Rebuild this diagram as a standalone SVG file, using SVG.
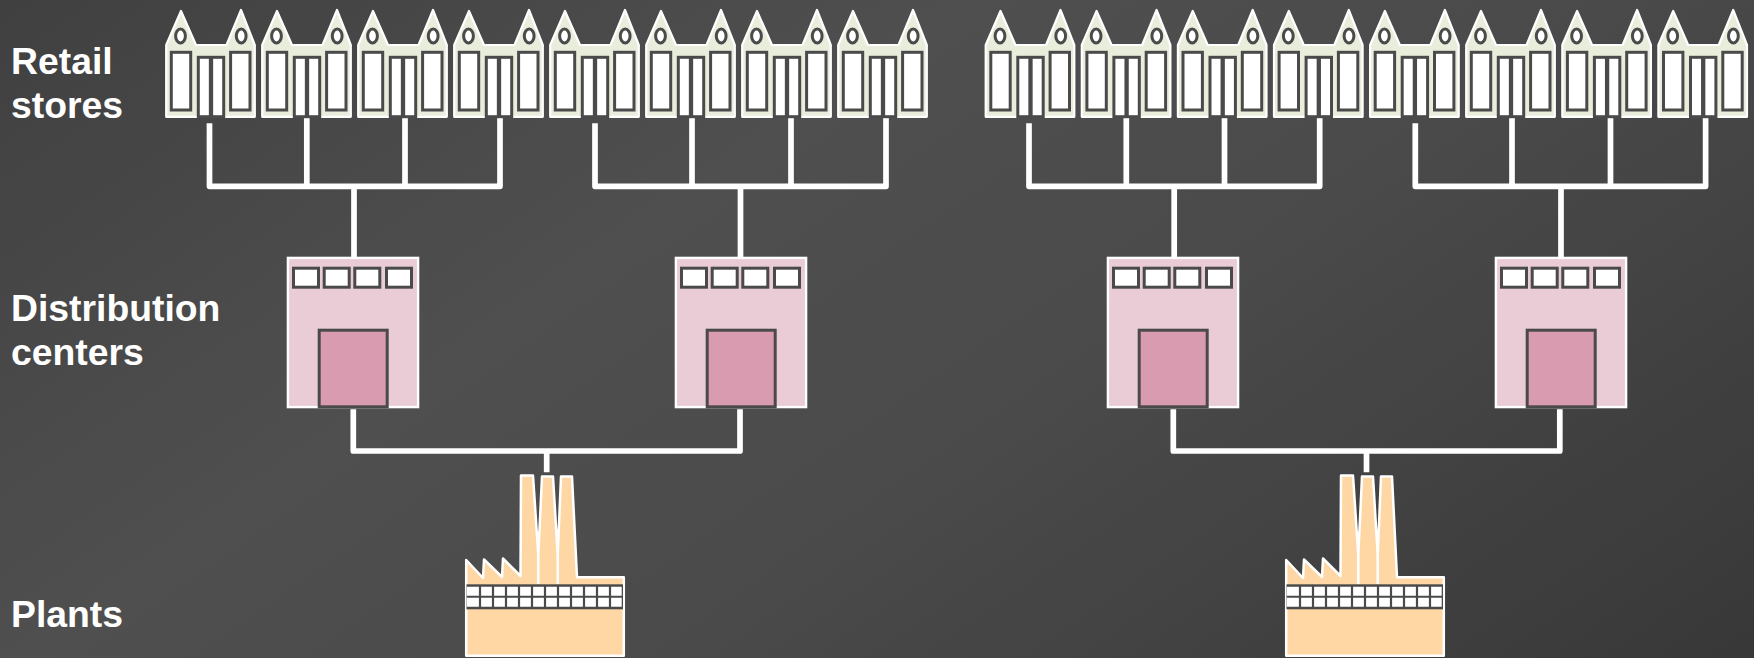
<svg xmlns="http://www.w3.org/2000/svg" width="1754" height="658" viewBox="0 0 1754 658">
<style>
text{font-family:"Liberation Sans",Arial,sans-serif;font-weight:bold;font-size:37.33px;fill:#fff}
.c{fill:none;stroke:#fff;stroke-width:5.700;stroke-linejoin:round}
.w{fill:#fff;stroke:#4a4a4a;stroke-width:3}
</style>
<defs>
<linearGradient id="bg" gradientUnits="userSpaceOnUse" x1="0" y1="0" x2="877" y2="1262">
<stop offset="0" stop-color="#404040"/><stop offset="0.36" stop-color="#4f4f4f"/><stop offset="0.6" stop-color="#4a4a4a"/><stop offset="1" stop-color="#383838"/>
</linearGradient>
<g id="store">
<path d="M1.200 45 16 11 31 45H61.500L76 10 89.800 45V116.800H1.200Z" fill="#e9eddc" stroke="#fff" stroke-width="2.200" stroke-linejoin="round"/>
<ellipse cx="15.500" cy="36" rx="4.900" ry="7" class="w"/>
<ellipse cx="76.200" cy="36" rx="4.900" ry="7" class="w"/>
<rect x="6.300" y="52.300" width="19.400" height="57.700" class="w"/>
<rect x="65.600" y="52.300" width="19.400" height="57.700" class="w"/>
<rect x="33.300" y="57.300" width="25.400" height="59.400" class="w"/>
<path d="M46 57V117" stroke="#4a4a4a" stroke-width="4.300"/>
</g>
<g id="dc">
<rect x="287.900" y="257.900" width="130.200" height="149.200" fill="#eaccd6" stroke="#fff" stroke-width="2.400"/>
<rect x="293.500" y="268.200" width="25" height="19" class="w"/>
<rect x="324.200" y="268.200" width="25" height="19" class="w"/>
<rect x="354.800" y="268.200" width="25" height="19" class="w"/>
<rect x="386.500" y="268.200" width="25" height="19" class="w"/>
<rect x="319.200" y="330.200" width="68" height="76.600" fill="#d89bb0" stroke="#4a4a4a" stroke-width="3"/>
</g>
<g id="plant">
<path d="M466.200 560 483 578 484 559.500 502 577 503 558.500 520.500 576 521 475.600H533L538.300 555 542 476.500H553L557.700 555 561 476.500H572L577 577.300H623.800V655.800H466.200Z" fill="#fed7a5" stroke="#fff" stroke-width="2.500" stroke-linejoin="round"/>
<path d="M538.300 555V584M557.700 555V584" stroke="#fff" stroke-width="2.500"/>
<rect x="466.500" y="584.300" width="156.500" height="25" fill="#4a4a4a"/>
<path d="M466.700 586.700H621.700V595.700H466.700ZM466.700 597.700H621.700V606.700H466.700Z" fill="#fff"/>
<path d="M480 586V607M493 586V607M506 586V607M519 586V607M532 586V607M545 586V607M558 586V607M571 586V607M584 586V607M597 586V607M610 586V607" stroke="#4a4a4a" stroke-width="2.200"/>
</g>
</defs>
<rect id="background" width="1754" height="658" fill="url(#bg)"/>
<text x="11" y="73.500">Retail</text>
<text x="11" y="118">stores</text>
<text x="11" y="321">Distribution</text>
<text x="11" y="365">centers</text>
<text x="11" y="627">Plants</text>
<g id="connectors">
<path class="c" d="M209.500 123.300V186.300H500V116M306.800 116V186.300M405 116V186.300M354 186.300V257"/>
<path class="c" d="M595 123.300V186.300H886V116M692 116V186.300M791 116V186.300M740.500 186.300V257"/>
<path class="c" d="M1029 123.300V186.300H1319.700V116M1126.300 116V186.300M1224.500 116V186.300M1174.200 186.300V257"/>
<path class="c" d="M1415.300 123.300V186.300H1705.600V116M1512 116V186.300M1610.500 116V186.300M1561 186.300V257"/>
<path class="c" d="M353.300 409.300V451H740V409.300M546.700 451V472.300"/>
<path class="c" d="M1173.300 409.300V451H1559.800V409.300M1366.500 451V472.300"/>
</g>
<g id="store-1"><use href="#store" x="165"/></g>
<g id="store-2"><use href="#store" x="261"/></g>
<g id="store-3"><use href="#store" x="357"/></g>
<g id="store-4"><use href="#store" x="453"/></g>
<g id="store-5"><use href="#store" x="549"/></g>
<g id="store-6"><use href="#store" x="645"/></g>
<g id="store-7"><use href="#store" x="741"/></g>
<g id="store-8"><use href="#store" x="837"/></g>
<g id="store-9"><use href="#store" x="984.500"/></g>
<g id="store-10"><use href="#store" x="1080.600"/></g>
<g id="store-11"><use href="#store" x="1176.700"/></g>
<g id="store-12"><use href="#store" x="1272.800"/></g>
<g id="store-13"><use href="#store" x="1368.900"/></g>
<g id="store-14"><use href="#store" x="1465"/></g>
<g id="store-15"><use href="#store" x="1561.100"/></g>
<g id="store-16"><use href="#store" x="1657.200"/></g>
<g id="dc-1"><use href="#dc"/></g>
<g id="dc-2"><use href="#dc" x="388"/></g>
<g id="dc-3"><use href="#dc" x="820"/></g>
<g id="dc-4"><use href="#dc" x="1208"/></g>
<g id="plant-1"><use href="#plant"/></g>
<g id="plant-2"><use href="#plant" x="820"/></g>
</svg>
